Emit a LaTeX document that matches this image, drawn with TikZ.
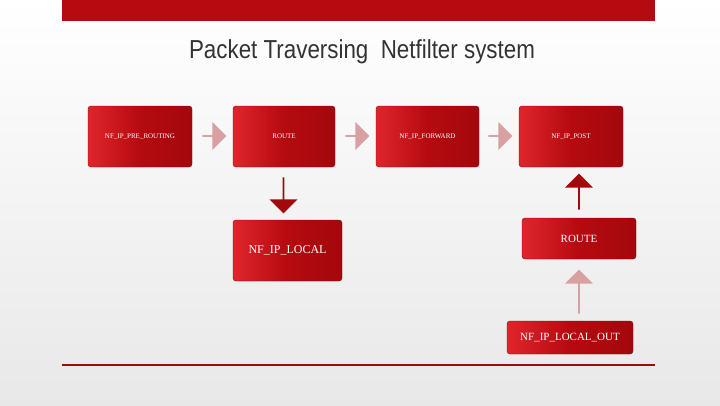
\documentclass[tikz,border=0pt]{standalone}
\usepackage{fontspec}
\setmainfont{Liberation Serif}
\newfontfamily\titlefont{Liberation Sans}
\usetikzlibrary{shapes.arrows}
\definecolor{boxred}{HTML}{B50A10}
\definecolor{boxlight}{HTML}{E0252C}
\definecolor{darkred}{HTML}{A3080C}
\definecolor{pinkarrow}{HTML}{D9A0A2}
\begin{document}
\begin{tikzpicture}[x=1pt,y=-1pt,
  box/.style={draw=boxred!70!black,line width=0.4pt,rounded corners=3pt,left color=boxlight,right color=darkred,middle color=boxred,text=white,align=center,inner sep=0pt},
  arr/.style={single arrow,draw=none,minimum height=#1,single arrow head extend=3pt,inner sep=0pt,minimum width=28pt},
]
\shade[top color=white,bottom color=gray!18] (0,0) rectangle (720,405);
\useasboundingbox (0,0) rectangle (720,405);
\fill[boxred] (62,0) rectangle (655,21);
\draw[darkred,line width=2.2pt] (62,365) -- (655,365);
\node[font=\titlefont\fontsize{26}{30}\selectfont,text=black!80,xscale=0.86] (title) at (362,52) {Packet Traversing\ \ Netfilter system};
\node[box,minimum width=104pt,minimum height=61pt,font=\fontsize{7}{8}\selectfont] (pre) at (140,136.5) {NF\_IP\_PRE\_ROUTING};
\node[box,minimum width=102pt,minimum height=61pt,font=\fontsize{7}{8}\selectfont] (route) at (284,136.5) {ROUTE};
\node[box,minimum width=103pt,minimum height=61pt,font=\fontsize{7}{8}\selectfont] (fwd) at (427.5,136.5) {NF\_IP\_FORWARD};
\node[box,minimum width=104pt,minimum height=61pt,font=\fontsize{7}{8}\selectfont] (post) at (571,136.5) {NF\_IP\_POST};
\node[box,minimum width=109pt,minimum height=61pt,font=\fontsize{12}{14}\selectfont] (local) at (287.5,250.5) {NF\_IP\_LOCAL};
\node[box,minimum width=114pt,minimum height=41pt,font=\fontsize{11}{13}\selectfont] (route2) at (579,238.5) {ROUTE};
\node[box,minimum width=126pt,minimum height=33pt,font=\fontsize{11}{13}\selectfont] (lout) at (570,337.5) {NF\_IP\_LOCAL\_OUT};
\node[arr=24pt,fill=pinkarrow] (a1) at (214,136) {};
\node[arr=24pt,fill=pinkarrow] (a2) at (357,136) {};
\node[arr=24pt,fill=pinkarrow] (a3) at (500,136) {};
\node[arr=36pt,fill=darkred,rotate=-90] (a4) at (283.5,195) {};
\node[arr=36pt,fill=darkred,rotate=90] (a5) at (579,192) {};
\node[arr=44pt,fill=pinkarrow,rotate=90] (a6) at (579,292) {};
\end{tikzpicture}
\end{document}
